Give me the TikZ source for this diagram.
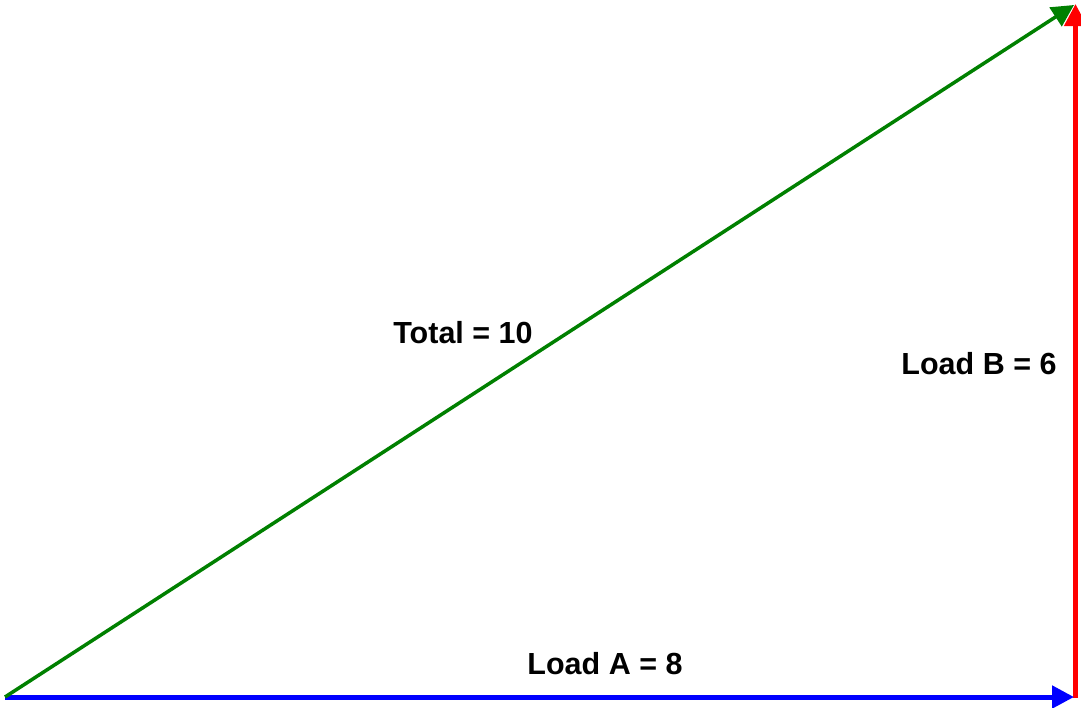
\documentclass[tikz,border=0pt]{standalone}
\usepackage{fontspec}
\setmainfont{Liberation Sans}
\usetikzlibrary{arrows.meta}
\begin{document}
\begin{tikzpicture}[x=1pt,y=-1pt,
  vec/.style={-{Triangle[length=22pt,width=22pt]}},
  lbl/.style={font=\fontsize{30.5}{36}\selectfont\bfseries, inner sep=0pt}]
\useasboundingbox (0,0) rectangle (1081,707);
\coordinate (O) at (5,697);
\coordinate (A) at (1074,697);
\coordinate (Rb) at (1075.5,698);
\coordinate (Rt) at (1075.5,4);
\coordinate (T) at (1074,5);
\draw[vec, red, line width=4.5pt] (Rb) -- (Rt);
\draw[vec, blue, line width=5pt] (O) -- (A);
\draw[vec, green!50!black, line width=3.5pt] (O) -- (T);
\node[lbl] (lt) at (463,333) {Total = 10};
\node[lbl] (lb) at (979,364) {Load B = 6};
\node[lbl] (la) at (605,664) {Load A = 8};
\end{tikzpicture}
\end{document}
